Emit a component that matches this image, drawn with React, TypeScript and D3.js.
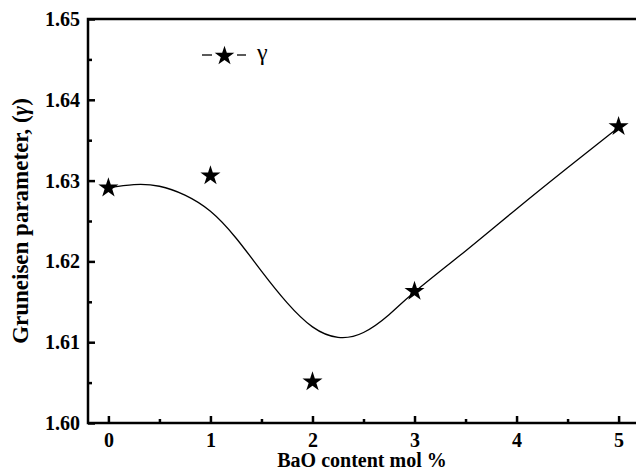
import * as d3 from 'd3';
import { useEffect, useRef } from 'react';

// measured points (BaO mol %, gamma)
const baoContent = [0, 1, 2, 3, 5];
const gammaValues = [1.6291, 1.6306, 1.6051, 1.6163, 1.6367];

// fitted curve
const fitX = [0, 0.25, 0.5, 0.75, 1, 1.25, 1.5, 1.75, 2, 2.25, 2.5, 2.75, 3, 3.5, 4, 4.5, 5];
const fitY = [
  1.6291, 1.6295, 1.6293, 1.6282, 1.6262, 1.6229, 1.6188, 1.6149, 1.6119,
  1.6106, 1.6112, 1.6134, 1.6162, 1.6213, 1.6265, 1.6316, 1.6366,
];

const xMajor = [0, 1, 2, 3, 4, 5];
const xMinor = [0.5, 1.5, 2.5, 3.5, 4.5];
const yMajor = [1.6, 1.61, 1.62, 1.63, 1.64, 1.65];
const yMinor = [1.605, 1.615, 1.625, 1.635, 1.645];

const W = 636;
const H = 471;
const left = 88;
const right = 639;
const top = 19;
const bottom = 423;
const font = "'Liberation Serif', 'Times New Roman', serif";

const App = () => {
  const gx = useRef(null);
  const gy = useRef(null);

  const xScale = d3.scaleLinear().domain([-0.2, 5.2]).range([left, right]);
  const yScale = d3.scaleLinear().domain([1.6, 1.65]).range([bottom, top]);

  useEffect(() => {
    const g = d3.select(gx.current);
    g.selectAll('*').remove();
    g.append('g')
      .call(d3.axisBottom(xScale).tickValues(xMajor).tickSize(-7).tickPadding(10).tickFormat(d3.format('d')));
    g.append('g')
      .call(d3.axisBottom(xScale).tickValues(xMinor).tickSize(-4).tickFormat(() => ''));
    g.selectAll('.domain').remove();
    g.selectAll('line').attr('stroke', '#000').attr('stroke-width', 2.5);
    g.selectAll('text')
      .attr('fill', '#000')
      .style('font-family', font)
      .style('font-weight', 'bold')
      .style('font-size', '20px');
  }, [gx, xScale]);

  useEffect(() => {
    const g = d3.select(gy.current);
    g.selectAll('*').remove();
    g.append('g')
      .call(d3.axisLeft(yScale).tickValues(yMajor).tickSize(-7).tickPadding(8).tickFormat(d3.format('.2f')));
    g.append('g')
      .call(d3.axisLeft(yScale).tickValues(yMinor).tickSize(-4).tickFormat(() => ''));
    g.selectAll('.domain').remove();
    g.selectAll('line').attr('stroke', '#000').attr('stroke-width', 2.5);
    g.selectAll('text')
      .attr('fill', '#000')
      .style('font-family', font)
      .style('font-weight', 'bold')
      .style('font-size', '20px');
  }, [gy, yScale]);

  const line = d3
    .line()
    .x((d) => xScale(d[0]))
    .y((d) => yScale(d[1]))
    .curve(d3.curveNatural);
  const fitPath = line(fitX.map((x, i) => [x, fitY[i]]));

  const star = d3.symbol().type(d3.symbolStar).size(125)();
  const legendStar = d3.symbol().type(d3.symbolStar).size(120)();

  return (
    <svg
      width={W}
      height={H}
      style={{ position: 'absolute', left: 0, top: 0, background: '#fff' }}
    >
      <path d={fitPath} fill='none' stroke='#000' strokeWidth={1.3} />
      {baoContent.map((x, i) => (
        <path
          key={i}
          d={star}
          transform={`translate(${xScale(x)},${yScale(gammaValues[i])})`}
          fill='#000'
        />
      ))}
      <rect
        x={left}
        y={top}
        width={right - left}
        height={bottom - top}
        fill='none'
        stroke='#000'
        strokeWidth={2.5}
      />
      <g ref={gx} transform={`translate(0, ${bottom})`}></g>
      <g ref={gy} transform={`translate(${left}, 0)`}></g>

      {/* legend */}
      <line x1={202} x2={212} y1={55} y2={55} stroke='#000' strokeWidth={1.3} />
      <line x1={237} x2={246} y1={55} y2={55} stroke='#000' strokeWidth={1.3} />
      <path d={legendStar} transform='translate(224.5,56)' fill='#000' />
      <text x={257} y={60} fontFamily={font} fontSize={24} fill='#000'>
        γ
      </text>

      <text
        x={362}
        y={467}
        textAnchor='middle'
        fontFamily={font}
        fontWeight='bold'
        fontSize={20}
        fill='#000'
      >
        BaO content mol %
      </text>
      <text
        transform={`translate(28, ${(top + bottom) / 2}) rotate(-90)`}
        textAnchor='middle'
        fontFamily={font}
        fontWeight='bold'
        fontSize={23}
        fill='#000'
      >
        Gruneisen parameter, (<tspan fontStyle='italic'>γ</tspan>)
      </text>
    </svg>
  );
};

export default App;
